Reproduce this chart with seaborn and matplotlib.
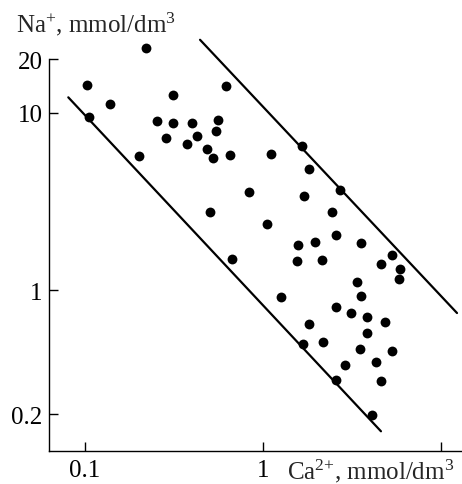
import matplotlib
matplotlib.use("Agg")
import matplotlib.pyplot as plt
import seaborn as sns
import pandas as pd

# Data (Ca2+ vs Na+, mmol/dm3)
ca = [0.103, 0.106, 0.139, 0.219, 0.311, 0.620, 0.255, 0.312, 0.401, 0.557,
      0.285, 0.428, 0.545, 0.373, 0.484, 0.526, 0.650, 0.202, 0.506, 1.11,
      1.66, 1.81, 2.71, 0.838, 1.71, 2.44, 1.06, 2.56, 1.58, 1.97,
      3.54, 0.672, 1.56, 2.15, 4.58, 5.33, 5.89, 5.79, 3.37, 3.54,
      1.26, 2.56, 3.11, 3.82, 4.86, 1.81, 3.82, 1.67, 2.18, 3.51,
      5.33, 2.89, 4.33, 2.58, 4.62, 4.08]
na = [14.3, 9.47, 11.2, 23.1, 12.5, 14.05, 8.99, 8.76, 8.69, 9.04,
      7.16, 7.37, 7.84, 6.65, 6.23, 5.56, 5.76, 5.67, 2.74, 5.81,
      6.45, 4.79, 3.67, 3.55, 3.40, 2.74, 2.35, 2.03, 1.80, 1.86,
      1.83, 1.495, 1.46, 1.476, 1.396, 1.575, 1.31, 1.149, 1.11, 0.921,
      0.910, 0.805, 0.742, 0.702, 0.658, 0.643, 0.575, 0.498, 0.509, 0.463,
      0.455, 0.380, 0.391, 0.312, 0.308, 0.198]

# Boundary lines (end points)
upper_ca = [0.443, 12.3]
upper_na = [25.7, 0.742]
lower_ca = [0.0806, 4.60]
lower_na = [12.18, 0.160]

xticks = [0.1, 1, 10]
xticklabels = ["0.1", "1", ""]
yticks = [0.2, 1, 10, 20]
yticklabels = ["0.2", "1", "10", "20"]

sns.set_style("ticks")
plt.rcParams["font.family"] = ["Liberation Serif", "DejaVu Serif"]
plt.rcParams["mathtext.fontset"] = "custom"
plt.rcParams["mathtext.rm"] = "Liberation Serif"
plt.rcParams["mathtext.it"] = "Liberation Serif:italic"

FS = 18

fig = plt.figure(figsize=(4.62, 4.85), dpi=100)
ax = fig.add_axes([49 / 462, 33 / 485, 1 - 49 / 462, (452 - 35) / 485])

df = pd.DataFrame({"ca": ca, "na": na})
sns.scatterplot(data=df, x="ca", y="na", ax=ax, color="black", s=50,
                linewidth=0, clip_on=False, zorder=3)
sns.lineplot(x=upper_ca, y=upper_na, ax=ax, color="black", lw=1.6,
             estimator=None, sort=False)
sns.lineplot(x=lower_ca, y=lower_na, ax=ax, color="black", lw=1.6,
             estimator=None, sort=False)

ax.set_xscale("log")
ax.set_yscale("log")
ax.set_xlim(0.0628, 13.12)
ax.set_ylim(0.1239, 27.7)
ax.set_xticks(xticks)
ax.set_xticklabels(xticklabels)
ax.set_yticks(yticks)
ax.set_yticklabels(yticklabels)
ax.minorticks_off()
ax.set_xlabel("")
ax.set_ylabel("")

for s in ["top", "right"]:
    ax.spines[s].set_visible(False)
ax.spines["left"].set_bounds(0.1239, 20)
for s in ["left", "bottom"]:
    ax.spines[s].set_linewidth(1.0)
    ax.spines[s].set_color("black")

ax.tick_params(axis="both", direction="in", length=6.5, width=1.0,
               labelsize=FS, colors="black", pad=4.5)
ax.tick_params(axis="x", pad=5.5)

fig.text(287 / 462, 1 - 479 / 485, r"Ca$^{2{+}}$, mmol/dm$^3$", fontsize=FS,
         ha="left", va="baseline")
fig.text(16 / 462, 1 - 32 / 485, r"Na$^{+}$, mmol/dm$^3$", fontsize=FS,
         ha="left", va="baseline")

fig.savefig("out.png", dpi=100)
